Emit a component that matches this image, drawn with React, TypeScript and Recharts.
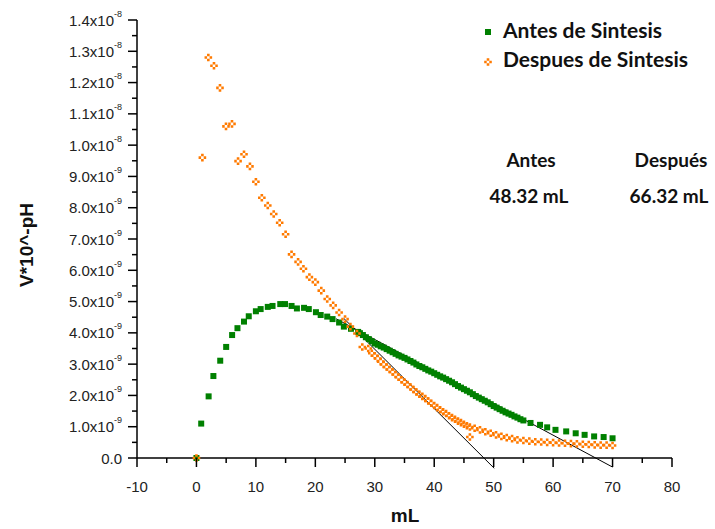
import React from 'react';
import { ScatterChart, Scatter, XAxis, YAxis, ReferenceLine } from 'recharts';

// values in units of 1e-9 (V*10^-pH)
const antesX = [
  0, 0.8, 2.05, 2.85, 4.0, 5.0, 6.0, 6.9, 8.0, 8.8, 10.0, 10.8, 12.0, 12.8, 14.1, 14.9, 16.0, 16.9, 18.1, 18.9,
  20.1, 20.9, 22.0, 22.9, 24.0, 24.8, 26.0, 27.2,
  27.5, 28.0, 28.5, 29.0, 29.5, 30.0, 30.5, 31.0, 31.5, 32.0, 32.5, 33.0, 33.5, 34.0, 34.5, 35.0, 35.5, 36.0,
  36.5, 37.0, 37.5, 38.0, 38.5, 39.0, 39.5, 40.0, 40.5, 41.0, 41.5, 42.0, 42.5, 43.0, 43.5, 44.0, 44.5, 45.0,
  45.5, 46.0, 46.5, 47.0, 47.5, 48.0, 48.5, 49.0, 49.5, 50.0, 50.5, 51.0, 51.5, 52.0, 52.5, 53.0, 53.5, 54.0,
  54.5, 55.0, 56.2, 57.8, 59.0, 60.4, 62.2, 63.8, 65.3, 66.9, 68.5, 70.0,
];
const antesY = [
  0, 1.10, 1.97, 2.62, 3.11, 3.55, 3.93, 4.15, 4.36, 4.53, 4.69, 4.76, 4.83, 4.86, 4.92, 4.92, 4.86, 4.78, 4.80, 4.76,
  4.66, 4.57, 4.52, 4.44, 4.33, 4.20, 4.13, 4.03,
  3.99, 3.93, 3.86, 3.80, 3.73, 3.66, 3.62, 3.57, 3.53, 3.48, 3.43, 3.38, 3.33, 3.28, 3.24, 3.20, 3.15, 3.10,
  3.05, 2.99, 2.94, 2.90, 2.85, 2.80, 2.76, 2.71, 2.66, 2.61, 2.57, 2.52, 2.47, 2.42, 2.36, 2.30, 2.25, 2.20,
  2.15, 2.10, 2.04, 1.98, 1.93, 1.88, 1.83, 1.78, 1.72, 1.66, 1.61, 1.56, 1.51, 1.46, 1.42, 1.38, 1.33, 1.29,
  1.24, 1.20, 1.12, 1.06, 0.98, 0.90, 0.85, 0.79, 0.74, 0.69, 0.67, 0.63,
];

const despuesX = [
  0, 1.0, 2.0, 2.95, 3.96, 4.97, 5.98, 7.0, 8.0, 9.0, 10.0, 11.0, 12.0, 13.0, 14.0, 15.0, 16.0, 17.1, 18.0, 19.0,
  20.0, 21.0, 22.0, 23.0, 24.0, 25.0, 25.9, 27.0, 27.9, 28.9,
  29.5, 30.0, 30.5, 31.0, 31.5, 32.0, 32.5, 33.0, 33.5, 34.0, 34.5, 35.0, 35.5, 36.0, 36.5, 37.0, 37.5, 38.0,
  38.5, 39.0, 39.5, 40.0, 40.5, 41.0, 41.5, 42.0, 42.5, 43.0, 43.5, 44.0, 44.5, 45.0, 45.5, 46.0, 46.0,
  46.8, 47.7, 48.6, 49.5, 50.4, 51.3, 52.2, 53.1, 54.0, 55.0, 56.0, 57.0, 58.0, 59.0, 60.0, 61.0, 62.0, 63.0,
  64.0, 65.0, 66.0, 67.0, 68.0, 69.0, 70.0,
];
const despuesY = [
  0, 9.60, 12.80, 12.54, 11.83, 10.60, 10.68, 9.49, 9.71, 9.32, 8.83, 8.32, 8.07, 7.80, 7.52, 7.15, 6.51, 6.27, 6.05, 5.78,
  5.62, 5.35, 5.08, 4.88, 4.65, 4.44, 4.20, 3.98, 3.55, 3.50,
  3.35, 3.27, 3.18, 3.08, 2.99, 2.91, 2.83, 2.75, 2.67, 2.58, 2.50, 2.42, 2.35, 2.27, 2.19, 2.11, 2.04, 1.97,
  1.90, 1.82, 1.75, 1.68, 1.61, 1.54, 1.48, 1.42, 1.35, 1.29, 1.24, 1.18, 1.13, 1.08, 1.03, 0.99, 0.67,
  0.95, 0.90, 0.84, 0.79, 0.74, 0.69, 0.65, 0.62, 0.58, 0.56, 0.54, 0.52, 0.51, 0.50, 0.49, 0.48, 0.47, 0.46,
  0.45, 0.44, 0.43, 0.42, 0.41, 0.41, 0.40,
];

// tangent lines [x, y] endpoints
const tangenteDespues = [[24.8, 4.46], [50.1, -0.33]];
const tangenteAntes = [[23.5, 4.45], [70.0, -0.29]];

const xTicks = [-10, -5, 0, 5, 10, 15, 20, 25, 30, 35, 40, 45, 50, 55, 60, 65, 70, 75, 80];
const yTicks = [0, 0.5, 1, 1.5, 2, 2.5, 3, 3.5, 4, 4.5, 5, 5.5, 6, 6.5, 7, 7.5, 8, 8.5, 9, 9.5, 10, 10.5, 11, 11.5, 12, 12.5, 13, 13.5, 14];

const antes = antesX.map((x, i) => ({ x, y: antesY[i] }));
const despues = despuesX.map((x, i) => ({ x, y: despuesY[i] }));

const GREEN = '#008000';
const ORANGE = '#FF7A00';
const TICK_FONT = '"Liberation Sans", Arial, sans-serif';
const NOTE_FONT = 'Lato, "Open Sans", sans-serif';

const Square = (props: any) => {
  const { cx, cy } = props;
  return <rect x={cx - 3} y={cy - 3} width={6} height={6} fill={GREEN} />;
};

const Plus = (props: any) => {
  const { cx, cy } = props;
  return (
    <path
      d={`M${cx - 3.8},${cy - 1.3}h7.6v2.6h-7.6z M${cx - 1.3},${cy - 3.8}v7.6h2.6v-7.6z`}
      fill={ORANGE}
    />
  );
};

const YTick = ({ x, y, payload }: any) => {
  const v = payload.value;
  const major = Math.abs(v - Math.round(v)) < 1e-6;
  const len = major ? 9 : 5;
  let main = '';
  let exp = '';
  if (v === 0) main = '0.0';
  else if (v >= 10) { main = (v / 10).toFixed(1) + 'x10'; exp = '-8'; }
  else { main = v.toFixed(1) + 'x10'; exp = '-9'; }
  return (
    <g>
      <line x1={x - len} x2={x} y1={y} y2={y} stroke="#000" strokeWidth={1.5} />
      {major && (
        <text x={x - 15} y={y + 5.5} textAnchor="end" fontSize={15} fontFamily={TICK_FONT} fill="#222">
          <tspan>{main}</tspan>
          {exp && <tspan dy={-9} fontSize={9}>{exp}</tspan>}
        </text>
      )}
    </g>
  );
};

const XTick = ({ x, y, payload }: any) => {
  const v = payload.value;
  const major = v % 10 === 0;
  const len = major ? 9 : 5;
  return (
    <g>
      <line x1={x} x2={x} y1={y} y2={y + len} stroke="#000" strokeWidth={1.5} />
      {major && (
        <text x={x} y={y + 34} textAnchor="middle" fontSize={15} fontFamily={TICK_FONT} fill="#222">
          {v}
        </text>
      )}
    </g>
  );
};

export default function App() {
  return (
    <div style={{ position: 'absolute', left: 0, top: 0, width: 715, height: 529, background: '#fff' }}>
      <ScatterChart width={715} height={529} margin={{ top: 20, right: 43, bottom: 31, left: 37 }}>
        <XAxis
          type="number"
          dataKey="x"
          domain={[-10, 80]}
          ticks={xTicks}
          interval={0}
          tickSize={0}
          tickMargin={0}
          tickLine={false}
          height={40}
          axisLine={{ stroke: '#000', strokeWidth: 1.5 }}
          tick={<XTick />}
        />
        <YAxis
          type="number"
          dataKey="y"
          domain={[0, 14]}
          ticks={yTicks}
          interval={0}
          tickSize={0}
          tickMargin={0}
          tickLine={false}
          width={100}
          axisLine={{ stroke: '#000', strokeWidth: 1.5 }}
          tick={<YTick />}
        />
        <Scatter name="Antes de Sintesis" data={antes} shape={<Square />} isAnimationActive={false} />
        <Scatter name="Despues de Sintesis" data={despues} shape={<Plus />} isAnimationActive={false} />
        <ReferenceLine
          segment={tangenteDespues.map(([x, y]) => ({ x, y }))}
          stroke="#000"
          strokeWidth={1}
          ifOverflow="visible"
        />
        <ReferenceLine
          segment={tangenteAntes.map(([x, y]) => ({ x, y }))}
          stroke="#000"
          strokeWidth={1}
          ifOverflow="visible"
        />
      </ScatterChart>
      <svg width={715} height={529} style={{ position: 'absolute', left: 0, top: 0, pointerEvents: 'none' }}>
        {/* legend */}
        <rect x={485} y={29} width={6} height={6} fill={GREEN} />
        <path d="M484.2,60.7h7.6v2.6h-7.6z M486.7,58.2v7.6h2.6v-7.6z" fill={ORANGE} />
        <text x={503} y={38} fontSize={21} fontWeight={700} fontFamily={NOTE_FONT} fill="#111">Antes de Sintesis</text>
        <text x={503} y={67} fontSize={21} fontWeight={700} fontFamily={NOTE_FONT} fill="#111">Despues de Sintesis</text>
        {/* end points */}
        <text x={531} y={167} textAnchor="middle" fontSize={19} fontWeight={700} fontFamily={NOTE_FONT} fill="#111">Antes</text>
        <text x={671} y={167} textAnchor="middle" fontSize={19} fontWeight={700} fontFamily={NOTE_FONT} fill="#111">Después</text>
        <text x={529} y={203} textAnchor="middle" fontSize={19} fontWeight={700} fontFamily={NOTE_FONT} fill="#111">48.32 mL</text>
        <text x={669} y={203} textAnchor="middle" fontSize={19} fontWeight={700} fontFamily={NOTE_FONT} fill="#111">66.32 mL</text>
        {/* axis titles */}
        <text x={405} y={522} textAnchor="middle" fontSize={19} fontWeight={700} fontFamily={TICK_FONT} fill="#111">mL</text>
        <text
          x={0}
          y={0}
          transform="translate(33,245) rotate(-90)"
          textAnchor="middle"
          fontSize={19}
          fontWeight={700}
          fontFamily={TICK_FONT}
          fill="#111"
        >
          V*10^-pH
        </text>
      </svg>
    </div>
  );
}
